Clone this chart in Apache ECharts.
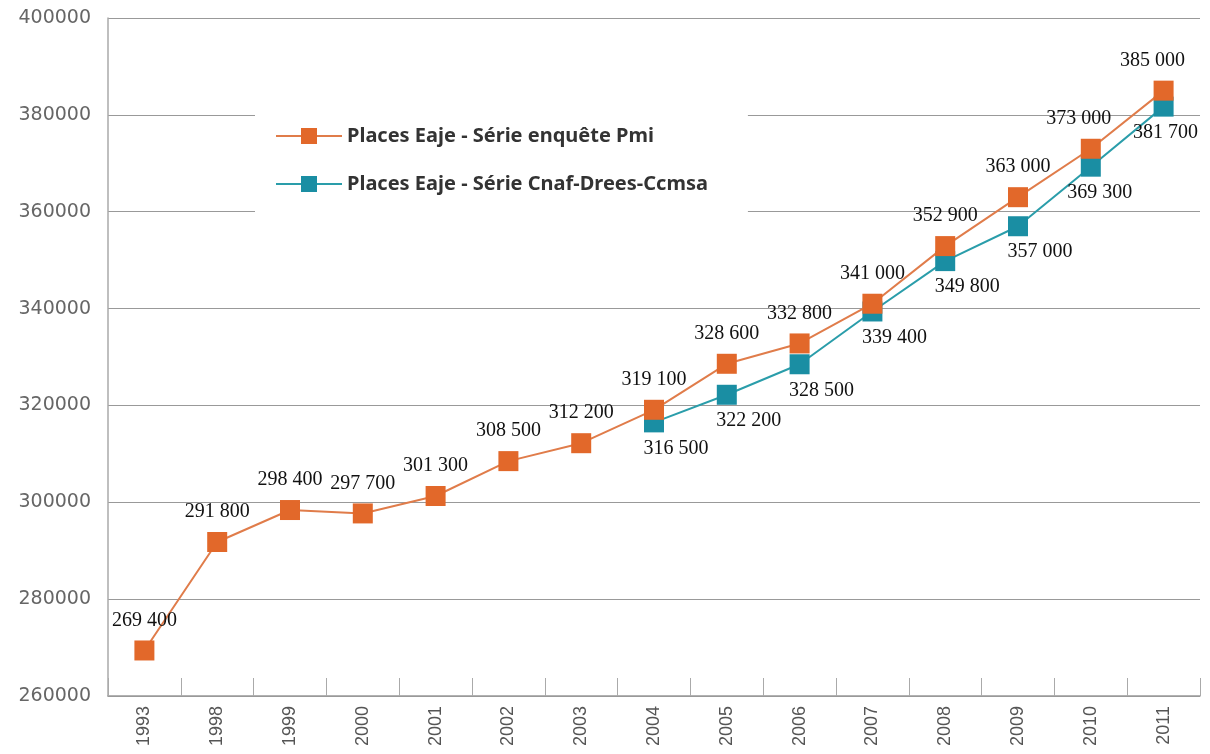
<!DOCTYPE html>
<html>
<head>
<meta charset="utf-8">
<script src="https://cdn.jsdelivr.net/npm/echarts@6/dist/echarts.min.js"></script>
<style>html,body{margin:0;padding:0;background:#fff;}#c{width:1210px;height:754px;}</style>
</head>
<body>
<div id="c"></div>
<script>
const years = ['1993','1998','1999','2000','2001','2002','2003','2004','2005','2006','2007','2008','2009','2010','2011'];
const pmiName = 'Places Eaje - Série enquête Pmi';
const cnafName = 'Places Eaje - Série Cnaf-Drees-Ccmsa';
const pmiValues = [269400, 291800, 298400, 297700, 301300, 308500, 312200, 319100, 328600, 332800, 341000, 352900, 363000, 373000, 385000];
const cnafValues = [null, null, null, null, null, null, null, 316500, 322200, 328500, 339400, 349800, 357000, 369300, 381700];
const yTicks = [260000, 280000, 300000, 320000, 340000, 360000, 380000, 400000];

// label placement tweaks (style only), keyed by year
const pmiLabelShift = { '2010': [-12, 0], '2011': [-11, 0] };
const cnafLabelShift = { '2010': [9, 0], '2011': [2, 0] };

const fmt = v => String(Math.round(v)).replace(/\B(?=(\d{3})+(?!\d))/g, ' ');
const labelFont = { fontFamily: 'Liberation Serif', fontSize: 20, color: '#111' };

const toData = (vals, shift) => vals.map((v, i) => {
  const o = { value: v };
  if (shift[years[i]]) o.label = { offset: shift[years[i]] };
  return o;
});

const chart = echarts.init(document.getElementById('c'));
chart.setOption({
  backgroundColor: '#fff',
  animation: false,
  grid: { left: 108, right: 10, top: 18, bottom: 58 },
  legend: {
    left: 255, top: 98,
    orient: 'vertical',
    backgroundColor: '#fff',
    padding: [28, 40, 30, 20],
    itemGap: 28,
    itemWidth: 66, itemHeight: 20,
    textStyle: { fontFamily: 'Noto Sans', fontSize: 20, color: '#333', fontWeight: 'bold' },
    data: [pmiName, cnafName]
  },
  xAxis: {
    type: 'category',
    data: years,
    boundaryGap: true,
    axisLine: { lineStyle: { color: '#999', width: 1.5 } },
    axisTick: { show: true, inside: true, length: 18, interval: 0, lineStyle: { color: '#aaa', width: 1 } },
    axisLabel: { rotate: 90, interval: 0, fontFamily: 'Liberation Sans', fontSize: 18, color: '#555', margin: 10 }
  },
  yAxis: {
    type: 'value',
    min: yTicks[0], max: yTicks[yTicks.length - 1], interval: 20000,
    axisLine: { show: true, lineStyle: { color: '#aaa', width: 1.5 } },
    axisTick: { show: false },
    splitLine: { lineStyle: { color: '#999', width: 1.2 } },
    axisLabel: { fontFamily: 'DejaVu Sans', fontSize: 19, color: '#666', margin: 17, formatter: v => String(v) }
  },
  series: [
    {
      name: cnafName, type: 'line', data: toData(cnafValues, cnafLabelShift), z: 2,
      symbol: 'rect', symbolSize: 20, showAllSymbol: true,
      itemStyle: { color: '#1A8EA3' },
      lineStyle: { color: '#2A9DAA', width: 2 },
      label: { show: true, position: 'bottom', distance: 6, offset: [22, 0], formatter: p => fmt(p.value), ...labelFont }
    },
    {
      name: pmiName, type: 'line', data: toData(pmiValues, pmiLabelShift), z: 3,
      symbol: 'rect', symbolSize: 20, showAllSymbol: true,
      itemStyle: { color: '#E2682A' },
      lineStyle: { color: '#E07C4A', width: 2 },
      label: { show: true, position: 'top', distance: 10, formatter: p => fmt(p.value), ...labelFont }
    }
  ]
});
</script>
</body>
</html>
